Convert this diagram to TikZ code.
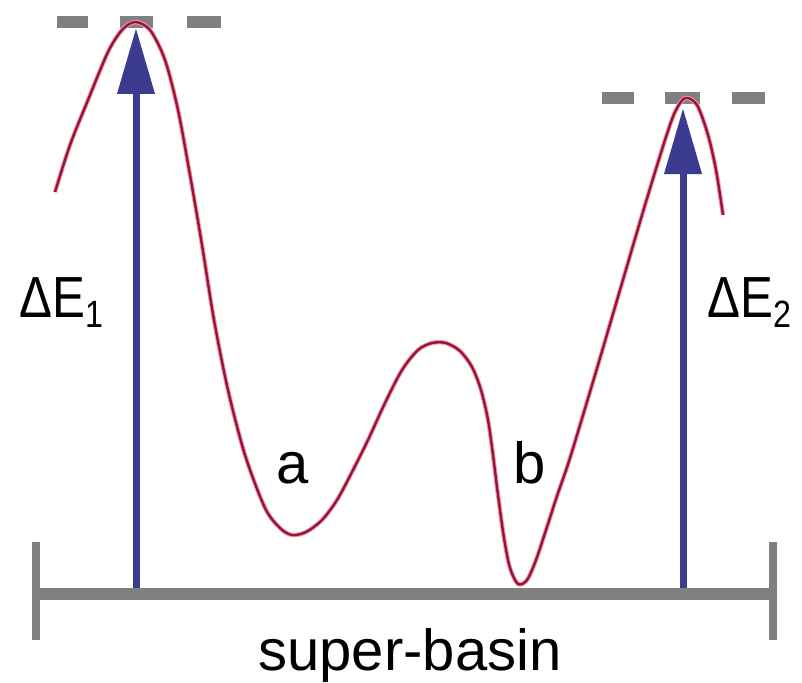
\documentclass[tikz,border=0pt]{standalone}
\usepackage{fontspec}
\usepackage{graphicx}
\setmainfont{Liberation Sans}
\usetikzlibrary{arrows.meta}
\definecolor{arrowblue}{HTML}{3B3B8F}
\definecolor{curvered}{HTML}{961638}
\definecolor{glowpink}{HTML}{F39AAE}
\definecolor{basegray}{HTML}{808080}
\newcommand{\energylabel}[1]{\scalebox{0.85}[1]{ΔE\raisebox{-10pt}{\fontsize{38}{38}\selectfont #1}}}
\tikzset{
  dashbar/.style={basegray, line width=12pt},
  energyarrow/.style={arrowblue, line width=7pt, -{Triangle[width=36pt,length=66pt]}},
  label/.style={inner sep=0pt, anchor=base, font=\fontsize{58}{58}\selectfont},
  baseline bar/.style={basegray, line width=12pt},
  tickbar/.style={basegray, line width=8pt},
}
\begin{document}
\begin{tikzpicture}[x=1pt,y=-1pt]
\useasboundingbox (0,0) rectangle (802,682);
% top dashes
\draw[dashbar] (57,22) -- (88,22);
\draw[dashbar] (120,22) -- (153,22);
\draw[dashbar] (187,22) -- (221,22);
\draw[dashbar] (602,98) -- (634,98);
\draw[dashbar] (665,98) -- (700,98);
\draw[dashbar] (732,98) -- (765,98);
% energy curve
\def\curvepts{(55,192) (70,145) (88,100) (108,52) (122,30) (135,22) (150,30) (165,60) (178,110) (190,175) (202,245) (214,320) (228,390) (245,455) (265,508) (280,528) (292,535) (306,532) (322,520) (337,500) (352,472) (368,440) (385,403) (402,370) (418,350) (432,343) (446,343) (460,351) (472,367) (481,390) (488,420) (493,455) (498,495) (504,538) (510,568) (518,584) (527,580) (536,560) (546,530) (557,496) (570,458) (595,375) (620,290) (645,205) (665,140) (675,112) (685,98) (697,105) (708,135) (716,170) (723,215)}
\draw[glowpink, line width=4.4pt, line join=round] plot[smooth, tension=0.5] coordinates {\curvepts};
\draw[curvered, line width=2.4pt, line join=round] plot[smooth, tension=0.5] coordinates {\curvepts};
% arrows
\coordinate (a1base) at (136,590);
\coordinate (a1tip) at (136,28);
\coordinate (a2base) at (683,590);
\coordinate (a2tip) at (683,108);
\draw[energyarrow] (a1base) -- (a1tip);
\draw[energyarrow] (a2base) -- (a2tip);
% baseline with ticks
\coordinate (bl) at (33,594);
\coordinate (br) at (777,594);
\draw[baseline bar] (bl) -- (br);
\draw[tickbar] (36,542) -- (36,640);
\draw[tickbar] (773,542) -- (773,640);
% labels
\node[label, anchor=base west] (de1) at (19,317) {\energylabel{1}};
\node[label, anchor=base west] (de2) at (707,317) {\energylabel{2}};
\node[label] (la) at (293,483) {a};
\node[label] (lb) at (530,483) {b};
\node[label] (sb) at (410,670) {super-basin};
\end{tikzpicture}
\end{document}
